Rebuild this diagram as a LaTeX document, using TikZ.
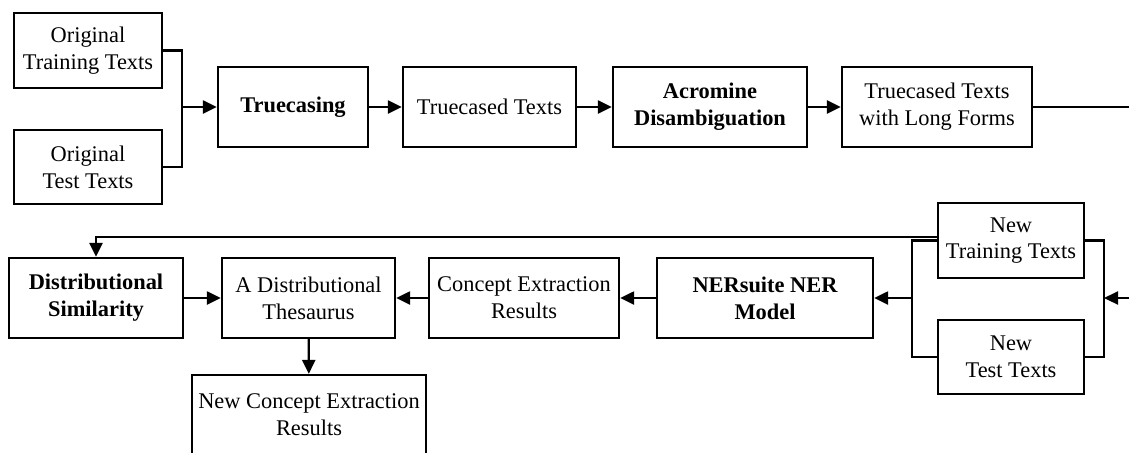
\documentclass[tikz,border=0pt]{standalone}
\usepackage{fontspec}
\setmainfont{Liberation Serif}
\usetikzlibrary{arrows.meta}
\begin{document}
\begin{tikzpicture}[x=0.5pt, y=-0.5pt, line width=1.15pt,
  every node/.style={font=\fontsize{11.2}{13.4}\selectfont, align=center, inner sep=0pt},
  box/.style={draw, minimum height=40pt},
  bbox/.style={box, font=\fontsize{11.2}{13.4}\selectfont\bfseries},
  arr/.style={-{Triangle[length=7pt,width=6.5pt]}}]
  \useasboundingbox (0,0) rectangle (1129,452);
  % top row
  \node [box,minimum width=74pt,minimum height=37.5pt] (otrain) at (88,50.5) {Original\\Training Texts};
  \node [box,minimum width=74pt,minimum height=37pt] (otest) at (88,167) {Original\\Test Texts};
  \node [bbox,minimum width=75pt] (truec) at (293,107) {Truecasing};
  \node [box,minimum width=86.5pt] (tctext) at (489.5,107) {Truecased Texts};
  \node [bbox,minimum width=97pt] (acro) at (710,107) {Acromine\\Disambiguation};
  \node [box,minimum width=95pt] (lforms) at (937,107) {Truecased Texts\\with Long Forms};
  % bottom row
  \node [box,minimum width=73pt,minimum height=37.5pt] (ntrain) at (1011,240.5) {New\\Training Texts};
  \node [box,minimum width=73pt,minimum height=37pt] (ntest) at (1011,357) {New\\Test Texts};
  \node [bbox,minimum width=108pt] (ner) at (765,298) {NERsuite NER\\Model};
  \node [box,minimum width=95pt] (cres) at (524,298) {Concept Extraction\\Results};
  \node [box,minimum width=86.5pt] (thes) at (308.5,298) {A Distributional\\Thesaurus};
  \node [bbox,minimum width=87pt] (dist) at (96,298) {Distributional\\Similarity};
  \node [box,minimum width=117pt] (newc) at (309,415) {New Concept Extraction\\Results};
  \coordinate (bx) at (182,107);
  \coordinate (bl) at (912,298);
  \coordinate (br) at (1104,298);
  \coordinate (outT) at (1129,107);
  \coordinate (inB) at (1129,298);
  % connectors
  \draw (otrain.east) -| (bx) |- (otest.east);
  \draw [arr] (bx) -- (truec);
  \draw [arr] (truec) -- (tctext);
  \draw [arr] (tctext) -- (acro);
  \draw [arr] (acro) -- (lforms);
  \draw (lforms.east) -- (outT);
  \draw [arr] (inB) -- (br);
  \draw (ntrain.west) -| (bl) |- (ntest.west);
  \draw (ntrain.east) -| (br) |- (ntest.east);
  \draw [arr] (bl) -- (ner.east);
  \draw [arr] (ner) -- (cres);
  \draw [arr] (cres) -- (thes);
  \draw [arr] (dist) -- (thes);
  \draw [arr] ([yshift=1.75pt]ntrain.west) -| (dist.north);
  \draw [arr] (thes) -- (newc);
\end{tikzpicture}
\end{document}
